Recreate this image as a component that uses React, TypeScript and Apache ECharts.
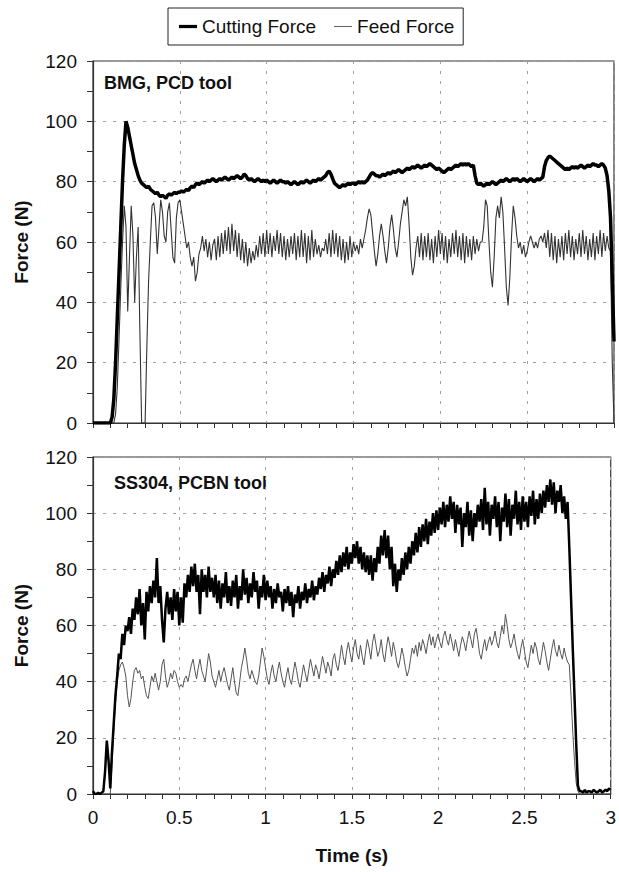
import React, { useEffect, useRef } from "react";
import * as echarts from "echarts";

// Sampling step of all series (seconds)
const STEP = 0.01;

// Legend / series names
const SERIES_NAMES = ["Cutting Force", "Feed Force"];
const PANEL_TITLES = ["BMG, PCD tool", "SS304, PCBN tool"];

// Top panel (BMG, PCD tool) — cutting force, t = 0 .. 3.00 s
const BMG_CUT = [
  0, 0, 0, 0, 0, 0, 0, 0, 0, 0, 0,
  2, 8, 20, 35, 50, 65, 80, 92, 100,
  98, 95, 92, 89, 86, 84, 82, 80.5, 79.5, 79,
  78.5, 78, 78.5, 77.5, 77, 76.5, 76, 76.5, 75.5, 75,
  75.5, 75, 74.5, 75.5, 76, 75.5, 76, 76.5, 76, 76.5,
  76.5, 77, 76.5, 77, 77.5, 77, 78, 78.5, 78, 79,
  79.5, 79, 79.5, 80, 79.5, 80, 80.5, 80, 80.5, 81,
  80.5, 80, 80.5, 81, 80.5, 81, 81.5, 81, 80.5, 81,
  81.5, 81, 81.5, 82, 81.5, 81, 81.5, 82.5, 82, 81,
  80.5, 81, 80.5, 80, 80.5, 81, 80.5, 80, 80.5, 80,
  80.5, 80, 79.5, 80, 80.5, 80, 79.5, 80, 80.5, 80,
  80, 79.5, 80, 79.5, 79, 79.5, 80, 79.5, 79, 79.5,
  80, 79.5, 80, 80.5, 80, 79.5, 80, 80.5, 80, 80.5,
  81, 80.5, 81, 81.5, 82, 83, 83.5, 82.5, 81, 79.5,
  79, 78.5, 78, 78.5, 79, 78.5, 79, 79.5, 79, 79.5,
  79.5, 79, 79.5, 80, 79.5, 80, 79.5, 80, 80.5, 81.5,
  82.5, 83, 82.5, 82, 82, 81.5, 82, 82.5, 82, 82.5,
  83, 82.5, 83, 83.5, 83, 83.5, 84, 83.5, 83, 83.5,
  84, 84.5, 84, 84.5, 85, 84.5, 85, 85.5, 85, 84.5,
  85, 85.5, 85, 85.5, 86, 85.5, 85, 84.5, 84, 84.5,
  84, 83.5, 83, 83.5, 84, 84.5, 84, 84.5, 85, 85.5,
  85, 85.5, 86, 85.5, 86, 85.5, 86, 85.5, 85, 85.5,
  82, 79.5, 79, 79.5, 79, 78.5, 79, 79.5, 79, 79.5,
  80, 79.5, 79, 79.5, 80, 80.5, 80, 80.5, 81, 80.5,
  80, 80.5, 81, 80.5, 81, 80.5, 80, 80.5, 81, 80.5,
  80, 80.5, 81, 80.5, 80, 80.5, 81, 80.5, 81, 81.5,
  85, 87, 88, 88.5, 88, 87.5, 87, 86.5, 86, 85.5,
  85, 84.5, 84, 84.5, 84, 84.5, 85, 84.5, 85, 84.5,
  85, 85.5, 85, 84.5, 85, 85.5, 85, 85.5, 86, 85.5,
  85.5, 85, 85.5, 86, 85.5, 84.5, 82, 77, 68, 48,
  27,
];

// Top panel — feed force
const BMG_FEED = [
  0, 0, 0, 0, 0, 0, 0, 0, 0, 0, 0, 0, 0,
  3, 12, 28, 45, 60, 72, 65, 37, 55, 72, 62, 40, 55, 65, 30,
  0, 0, 0,
  25, 47, 60, 72, 73, 68, 56, 65, 74,
  70, 62, 60, 70, 73, 64, 55, 53, 68, 73,
  74, 70, 66, 62, 58, 60, 55, 52, 55, 47,
  50, 56, 58, 62, 57, 61, 55, 60, 54, 59,
  61, 54, 62, 55, 63, 56, 64, 57, 65, 56,
  66, 57, 64, 55, 63, 54, 61, 53, 60, 52,
  58, 53, 57, 54, 59, 55, 62, 56, 63, 55,
  64, 56, 63, 55, 62, 57, 64, 56, 63, 55,
  62, 54, 61, 55, 62, 56, 63, 54, 62, 55,
  64, 55, 63, 53, 62, 54, 64, 55, 61, 56,
  59, 55, 58, 57, 61, 56, 63, 55, 64, 56,
  63, 55, 62, 54, 61, 53, 60, 54, 62, 55,
  60, 57, 59, 56, 61, 58, 61, 64, 68, 71,
  69, 63, 57, 52, 56, 62, 66, 62, 57, 53,
  58, 65, 69, 64, 58, 55, 60, 66, 70, 74,
  72, 75, 66, 55, 49, 52, 58, 62, 55, 63,
  54, 62, 55, 63, 54, 61, 53, 62, 55, 64,
  56, 63, 54, 62, 53, 61, 55, 63, 56, 64,
  55, 62, 54, 63, 53, 62, 55, 61, 54, 62,
  56, 61, 57, 60, 60, 65, 74, 72, 60, 50,
  45, 55, 68, 72, 68, 75, 70, 58, 45, 39,
  48, 62, 72, 68, 62, 58, 60, 56, 59, 55,
  57, 60, 62, 60, 58, 60, 58, 61, 62, 60,
  63, 58, 64, 55, 63, 54, 62, 53, 61, 55,
  62, 54, 63, 56, 64, 55, 62, 54, 61, 56,
  63, 55, 64, 56, 62, 54, 61, 55, 63, 54,
  62, 56, 64, 55, 63, 57, 62, 58, 57, 20,
  0,
];

// Bottom panel (SS304, PCBN tool) — cutting force
const SS_CUT = [
  1, 0, 0, 0.5, 0, 0.5, 1,
  8, 19, 12,
  2, 15, 25, 35, 42, 50, 48, 57, 53, 60,
  58, 63, 57, 66, 62, 70, 64, 73, 60, 68,
  55, 72, 65, 74, 68, 76, 70, 84, 68, 74,
  62, 54, 66, 72, 64, 70, 62, 73, 65, 72,
  60, 70, 61, 75, 70, 78, 72, 81, 74, 82,
  72, 78, 64, 80, 72, 78, 70, 81, 72, 77,
  70, 78, 68, 76, 66, 75, 70, 79, 68, 74,
  67, 76, 70, 78, 66, 74, 69, 80, 71, 77,
  68, 75, 70, 79, 72, 76, 66, 74, 70, 78,
  69, 76, 70, 74, 66, 73, 68, 75, 70, 72,
  65, 73, 68, 74, 67, 72, 63, 71, 68, 74,
  66, 72, 69, 75, 68, 73, 70, 76, 69, 74,
  71, 77, 73, 79, 72, 78, 75, 81, 74, 80,
  77, 83, 78, 85, 79, 86, 81, 88, 80, 86,
  82, 89, 84, 90, 82, 88, 80, 86, 79, 85,
  78, 85, 76, 84, 79, 88, 82, 92, 85, 94,
  84, 92, 80, 88, 74, 82, 72, 80, 76, 84,
  78, 86, 80, 88, 82, 90, 85, 93, 86, 95,
  88, 96, 90, 98, 89, 97, 92, 100, 93, 101,
  94, 102, 96, 104, 95, 103, 97, 106, 98, 104,
  93, 103, 96, 102, 88, 100, 95, 104, 92, 101,
  90, 100, 95, 103, 97, 105, 94, 109, 96, 104,
  92, 103, 98, 106, 95, 104, 90, 102, 97, 107,
  95, 105, 92, 103, 98, 108, 96, 104, 94, 106,
  97, 104, 95, 106, 99, 108, 96, 105, 98, 107,
  100, 108, 102, 110, 104, 112, 103, 111, 100, 108,
  104, 110, 100, 106, 98, 104, 88, 70, 52, 35,
  18, 3, 1, 1, 0.5, 1.5, 0.5, 1, 1, 0.5,
  1.5, 1, 0.5, 1, 1.5, 0.5, 1, 1.5, 1, 2, 1.5,
];

// Bottom panel — feed force
const SS_FEED = [
  0, 0, 0, 0, 0, 0, 0, 0, 0, 0, 0,
  10, 22, 32, 40, 44, 46, 47, 45, 42,
  35, 31, 34, 40, 44, 45, 43, 44, 41, 42,
  38, 35, 34, 38, 42, 40, 43, 40, 37, 40,
  46, 48, 42, 38, 40, 43, 41, 44, 43, 40,
  38, 39, 38, 41, 42, 40, 43, 46, 48, 44,
  41, 45, 48, 44, 42, 40, 45, 50, 47, 42,
  40, 38, 41, 44, 40, 43, 45, 42, 39, 37,
  41, 45, 40, 36, 35, 40, 45, 48, 52, 48,
  43, 41, 44, 42, 40, 39, 42, 47, 52, 49,
  45, 41, 39, 43, 46, 42, 40, 44, 47, 43,
  40, 38, 42, 45, 41, 39, 43, 47, 44, 40,
  38, 42, 46, 43, 40, 44, 48, 45, 42, 46,
  44, 41, 45, 49, 46, 43, 47, 45, 42, 48,
  50, 46, 44, 48, 53, 49, 46, 51, 54, 50,
  47, 52, 55, 50, 48, 53, 49, 46, 51, 55,
  52, 48, 54, 57, 53, 49, 51, 55, 50, 47,
  52, 56, 53, 49, 54, 51, 47, 45, 48, 52,
  49, 45, 42, 44, 48, 52, 50, 53, 49, 54,
  51, 55, 53, 50, 54, 57, 53, 56, 52, 55,
  57, 54, 52, 56, 58, 55, 53, 57, 54, 51,
  55, 52, 49, 53, 56, 54, 51, 55, 58, 55,
  52, 57, 59, 55, 50, 48, 52, 55, 51, 54,
  56, 53, 55, 58, 54, 52, 56, 60, 57, 64,
  60, 55, 52, 54, 57, 53, 50, 48, 52, 55,
  51, 47, 45, 49, 53, 50, 54, 52, 48, 46,
  50, 54, 51, 47, 44, 48, 52, 55, 51, 49,
  53, 50, 48, 52, 49, 47, 46, 35, 22, 12,
  4, 1, 0, 0, 0, 0, 0, 0, 0, 0,
  0, 0, 0, 0, 0, 0, 0, 0, 0, 0, 0,
];

const FONT = "'Liberation Sans', Arial, Helvetica, sans-serif";

function toPairs(values: number[]): number[][] {
  return values.map((v, i) => [Math.round(i * STEP * 100) / 100, v]);
}

export default function App() {
  const ref = useRef<HTMLDivElement>(null);

  useEffect(() => {
    document.body.style.margin = "0";
    if (!ref.current) return;
    const chart = echarts.init(ref.current, null, { renderer: "svg" });

    const axisColor = "#333";
    const splitLine = {
      show: true,
      lineStyle: { color: "#a0a0a0", type: [3, 7] as number[], width: 1 },
    };

    const yAxis = (gridIndex: number) => ({
      type: "value",
      gridIndex,
      min: 0,
      max: 120,
      interval: 20,
      name: "Force (N)",
      nameLocation: "middle",
      nameGap: 62,
      nameRotate: 90,
      nameTextStyle: { fontFamily: FONT, fontWeight: "bold", fontSize: 19, color: "#111" },
      axisLine: { show: true, lineStyle: { color: axisColor, width: 1.2 } },
      axisTick: { show: true, length: 6, lineStyle: { color: axisColor } },
      minorTick: { show: true, splitNumber: 2, length: 6, lineStyle: { color: axisColor } },
      axisLabel: { fontFamily: FONT, fontSize: 19, color: "#111", margin: 16 },
      splitLine,
    });

    const xAxis = (gridIndex: number, showLabels: boolean) => ({
      type: "value",
      gridIndex,
      min: 0,
      max: 3,
      interval: 0.5,
      name: showLabels ? "Time (s)" : "",
      nameLocation: "middle",
      nameGap: 52,
      nameTextStyle: { fontFamily: FONT, fontWeight: "bold", fontSize: 19, color: "#111" },
      axisLine: { show: true, onZero: false, lineStyle: { color: axisColor, width: 1.2 } },
      axisTick: { show: true, length: 5, lineStyle: { color: axisColor } },
      minorTick: { show: true, splitNumber: 5, length: 5, lineStyle: { color: axisColor } },
      axisLabel: { show: showLabels, fontFamily: FONT, fontSize: 19, color: "#111", margin: 14 },
      splitLine,
    });

    chart.setOption({
      animation: false,
      backgroundColor: "#fff",
      legend: {
        left: 168,
        top: 8,
        padding: [9, 9, 9, 11],
        itemGap: 18,
        itemWidth: 18,
        itemHeight: 12,
        borderColor: "#222",
        borderWidth: 1,
        textStyle: { fontFamily: FONT, fontSize: 19, color: "#111" },
        data: [
          { name: SERIES_NAMES[0], icon: "path://M0,0H20V3.6H0Z", itemStyle: { color: "#000" } },
          { name: SERIES_NAMES[1], icon: "path://M0,0H20V1.2H0Z", itemStyle: { color: "#666" } },
        ],
      },
      grid: [
        { left: 93, top: 61, width: 521, height: 362, show: true, borderColor: axisColor, borderWidth: 1.2, backgroundColor: "transparent" },
        { left: 93, top: 457, width: 521, height: 337, show: true, borderColor: axisColor, borderWidth: 1.2, backgroundColor: "transparent" },
      ],
      xAxis: [xAxis(0, false), xAxis(1, true)],
      yAxis: [yAxis(0), yAxis(1)],
      graphic: [
        {
          type: "text",
          left: 104,
          top: 74,
          style: { text: PANEL_TITLES[0], fontFamily: FONT, fontWeight: "bold", fontSize: 18, fill: "#111" },
        },
        {
          type: "text",
          left: 114,
          top: 474,
          style: { text: PANEL_TITLES[1], fontFamily: FONT, fontWeight: "bold", fontSize: 18, fill: "#111" },
        },
      ],
      series: [
        {
          name: SERIES_NAMES[1],
          type: "line",
          xAxisIndex: 0,
          yAxisIndex: 0,
          data: toPairs(BMG_FEED),
          showSymbol: false,
          symbol: "none",
          lineStyle: { color: "#333", width: 1.1 },
          itemStyle: { color: "#666" },
        },
        {
          name: SERIES_NAMES[0],
          type: "line",
          xAxisIndex: 0,
          yAxisIndex: 0,
          data: toPairs(BMG_CUT),
          showSymbol: false,
          symbol: "none",
          lineStyle: { color: "#000", width: 3.5 },
          itemStyle: { color: "#000" },
        },
        {
          name: SERIES_NAMES[1],
          type: "line",
          xAxisIndex: 1,
          yAxisIndex: 1,
          data: toPairs(SS_FEED),
          showSymbol: false,
          symbol: "none",
          lineStyle: { color: "#555", width: 1 },
          itemStyle: { color: "#666" },
        },
        {
          name: SERIES_NAMES[0],
          type: "line",
          xAxisIndex: 1,
          yAxisIndex: 1,
          data: toPairs(SS_CUT),
          showSymbol: false,
          symbol: "none",
          lineStyle: { color: "#000", width: 2.5 },
          itemStyle: { color: "#000" },
        },
      ],
    });

    return () => {
      chart.dispose();
    };
  }, []);

  return <div ref={ref} style={{ width: 619, height: 872 }} />;
}
